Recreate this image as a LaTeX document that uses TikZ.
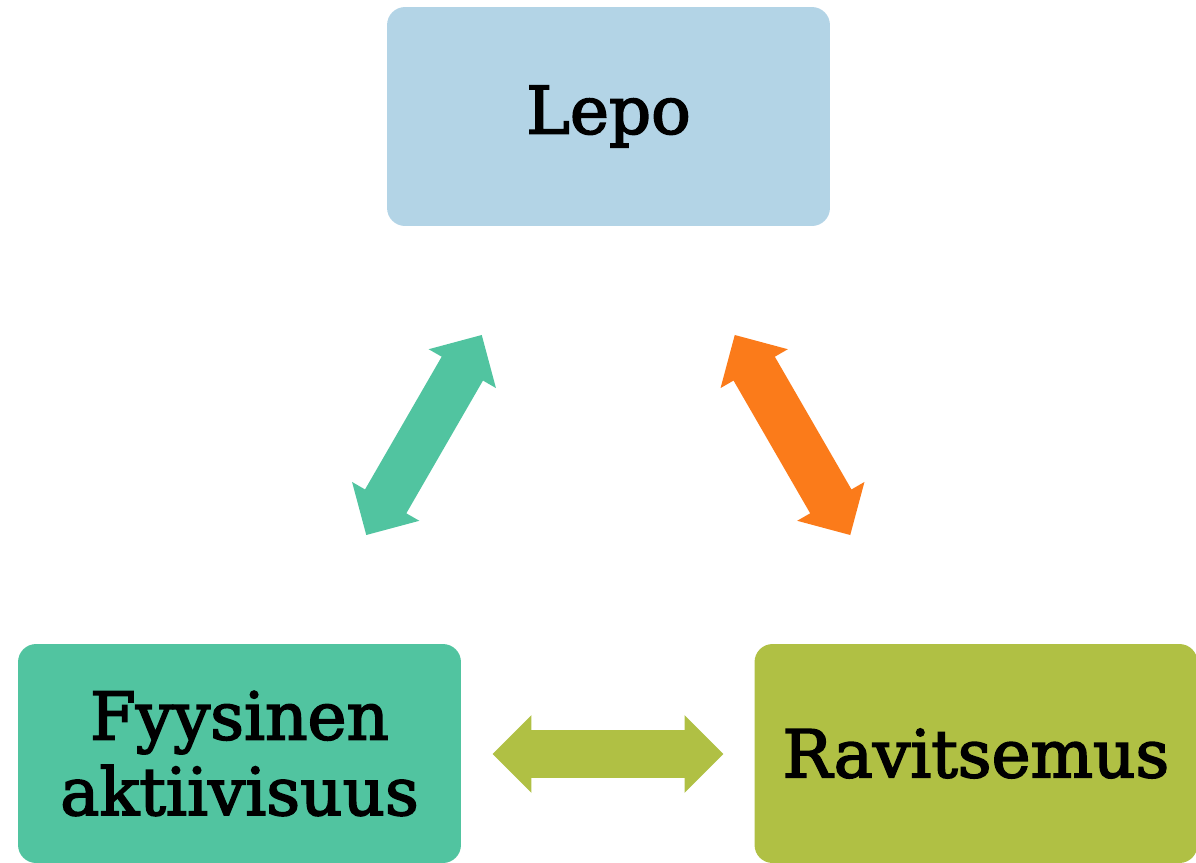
\documentclass[tikz,border=0pt]{standalone}
\usepackage{fontspec}
\setmainfont{DejaVu Serif}[FakeBold=2.5]
\usetikzlibrary{shapes.arrows}
\definecolor{restblue}{RGB}{179, 212, 230}
\definecolor{movegreen}{RGB}{81, 196, 160}
\definecolor{foodolive}{RGB}{176, 192, 68}
\definecolor{linkorange}{RGB}{251, 123, 26}

\begin{document}
\begin{tikzpicture}[x=0.02cm, y=-0.02cm,
            box/.style={rounded corners=0.36cm, minimum width=8.86cm, minimum height=4.38cm, align=center, inner sep=0pt, font=\fontsize{37.5}{43}\selectfont},
            link/.style={double arrow, inner xsep=0pt, inner ysep=0.47cm, minimum height=4.62cm, double arrow head extend=0.3cm, double arrow tip angle=90}
        ]
            \useasboundingbox (0,0) rectangle (1196,862);
            \node[box, fill=restblue] (lepo) at (608.5,116.5) {Lepo};
            \node[box, fill=movegreen] (liikunta) at (239.5,753.5) {Fyysinen\\aktiivisuus};
            \node[box, fill=foodolive] (ravinto) at (976,753.5) {Ravitsemus};
            
            \node[link, fill=movegreen, rotate=60] (lepoliikunta) at (424,435) {};
            \node[link, fill=linkorange, rotate=-60] (leporavinto) at (792.5,435) {};
            \node[link, fill=foodolive] (liikuntaravinto) at (608,754) {};
        \end{tikzpicture}
\end{document}
